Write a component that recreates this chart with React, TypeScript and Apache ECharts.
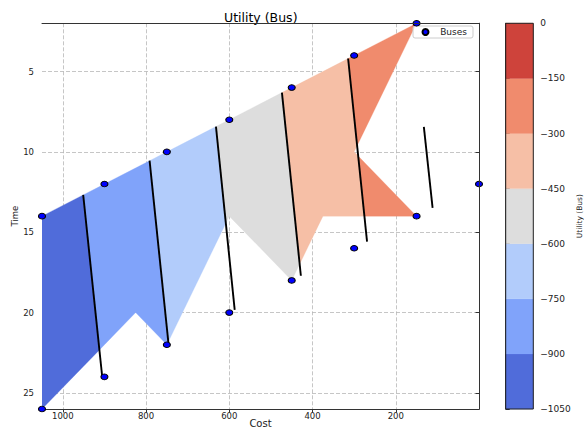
import { useEffect, useRef } from "react";
import * as echarts from "echarts";

// Bus alternatives: cost and travel time of each observation
const busCost = [1050, 1050, 900, 900, 750, 750, 600, 600, 450, 450, 300, 300, 150, 150, 0];
const busTime = [14, 26, 12, 24, 10, 22, 8, 20, 6, 18, 4, 16, 2, 14, 12];

// Utility levels of the filled contour bands
const levels = [-1050, -900, -750, -600, -450, -300, -150, 0];

// Iso-utility lines: level and [cost, time] at each end
const isoLevels = [-900, -750, -600, -450, -300, -150];
const isoStart: [number, number][] = [
  [951, 12.68],
  [791.5, 10.55],
  [632, 8.43],
  [473.5, 6.31],
  [314.5, 4.19],
  [132.5, 8.45],
];
const isoEnd: [number, number][] = [
  [905, 24.07],
  [746, 21.95],
  [587, 19.83],
  [428, 17.71],
  [269, 15.59],
  [111.5, 13.49],
];

// Outline of the filled utility surface (cost, time)
const fillCost = [1050, 900, 750, 600, 450, 300, 150, 300, 150, 375, 450, 600, 750, 825, 1050];
const fillTime = [14, 12, 10, 8, 6, 4, 2, 10, 14, 14, 18, 14, 22, 20, 26];

// Axis ticks
const costTicks = [200, 400, 600, 800, 1000];
const timeTicks = [5, 10, 15, 20, 25];

// coolwarm colours for the seven bands, low to high
const bandColors = ["#506cda", "#80a3fa", "#b2ccfb", "#dddddd", "#f6bfa6", "#f08b6d", "#ce433b"];

type P = [number, number];

function cut(p: P, q: P, dp: number, dq: number): P {
  const t = dp / (dp - dq);
  return [p[0] + (q[0] - p[0]) * t, p[1] + (q[1] - p[1]) * t];
}

// Keep the part of a polygon lying on the same side of line a-b as `keep`
function clipHalf(poly: P[], a: P, b: P, keep: P): P[] {
  const side = (p: P) => (b[0] - a[0]) * (p[1] - a[1]) - (b[1] - a[1]) * (p[0] - a[0]);
  const s = Math.sign(side(keep));
  const out: P[] = [];
  for (let i = 0; i < poly.length; i++) {
    const cur = poly[i];
    const prev = poly[(i + poly.length - 1) % poly.length];
    const dc = side(cur) * s;
    const dp = side(prev) * s;
    if (dc >= 0) {
      if (dp < 0) out.push(cut(prev, cur, dp, dc));
      out.push(cur);
    } else if (dp >= 0) {
      out.push(cut(prev, cur, dp, dc));
    }
  }
  return out;
}

const FONT = "DejaVu Sans";
const SPINE = "#333333";
const TEXT = "#222222";

export default function App() {
  const ref = useRef<HTMLDivElement>(null);

  useEffect(() => {
    document.body.style.margin = "0";
    if (!ref.current) return;
    const chart = echarts.init(ref.current, undefined, { renderer: "svg" });

    const bandIndex = levels.slice(0, -1).map((_, k) => [k, 0]);

    const option: any = {
      animation: false,
      textStyle: { fontFamily: FONT },
      title: {
        text: "Utility (Bus)",
        left: 219,
        top: 6,
        textStyle: { fontFamily: FONT, fontSize: 12.5, fontWeight: "normal", color: "#000" },
      },
      legend: {
        data: ["Buses"],
        left: 413,
        top: 26,
        orient: "vertical",
        padding: [1.5, 6, 1.5, 8.5],
        itemWidth: 13.4,
        itemHeight: 6,
        icon: "circle",
        backgroundColor: "rgba(255,255,255,0.85)",
        borderColor: "#cccccc",
        borderWidth: 1,
        borderRadius: 2,
        textStyle: { fontFamily: FONT, fontSize: 9, color: TEXT, lineHeight: 9, padding: [0, 0, 0, 3] },
      },
      grid: [
        { left: 42, top: 23.3, width: 437, height: 385.7, outerBoundsMode: "none", containLabel: false },
        { left: 505.7, top: 23.3, width: 27.6, height: 385.7, outerBoundsMode: "none", containLabel: false },
      ],
      xAxis: [
        {
          gridIndex: 0,
          type: "value",
          min: 0,
          max: 1050,
          inverse: true,
          position: "bottom",
          name: "Cost",
          nameLocation: "middle",
          nameGap: 9,
          nameMoveOverlap: false,
          nameTextStyle: { fontFamily: FONT, fontSize: 10, color: TEXT },
          axisLine: { show: true, lineStyle: { color: SPINE, width: 1 } },
          axisTick: { show: true, customValues: costTicks, length: 3.5, lineStyle: { color: SPINE } },
          axisLabel: {
            customValues: costTicks,
            fontSize: 8.5,
            margin: 2.5,
            color: TEXT,
            fontFamily: FONT,
            formatter: (v: number) => String(v),
          },
          splitLine: { show: true, lineStyle: { color: "#b8b8b8", width: 0.8, type: [4, 2] } },
          z: 0,
        },
        {
          gridIndex: 0,
          type: "value",
          min: 0,
          max: 1050,
          inverse: true,
          position: "top",
          axisLine: { show: true, lineStyle: { color: SPINE, width: 1 } },
          axisTick: { show: false },
          axisLabel: { show: false },
          splitLine: { show: false },
          z: 10,
        },
        { gridIndex: 1, type: "value", min: 0, max: 1, show: false },
      ],
      yAxis: [
        {
          gridIndex: 0,
          type: "value",
          min: 2,
          max: 26,
          inverse: true,
          position: "left",
          name: "Time",
          nameLocation: "middle",
          nameGap: 23,
          nameMoveOverlap: false,
          nameTextStyle: { fontFamily: FONT, fontSize: 8.5, color: TEXT },
          axisLine: { show: true, lineStyle: { color: SPINE, width: 1 } },
          axisTick: { show: true, customValues: timeTicks, length: 3.5, lineStyle: { color: SPINE } },
          axisLabel: {
            customValues: timeTicks,
            fontSize: 8.5,
            margin: 8,
            color: TEXT,
            fontFamily: FONT,
            formatter: (v: number) => String(v),
          },
          splitLine: { show: false },
          z: 10,
        },
        {
          gridIndex: 0,
          type: "value",
          min: 2,
          max: 26,
          inverse: true,
          position: "right",
          axisLine: { show: true, lineStyle: { color: SPINE, width: 1 } },
          axisTick: { show: false },
          axisLabel: { show: false },
          splitLine: { show: true, lineStyle: { color: "#b8b8b8", width: 0.8, type: [4, 2] } },
          z: 0,
        },
        {
          gridIndex: 1,
          type: "value",
          min: -1050,
          max: 0,
          interval: 150,
          position: "right",
          name: "Utility (Bus)",
          nameLocation: "middle",
          nameRotate: 90,
          nameGap: 42,
          nameMoveOverlap: false,
          nameTextStyle: { fontFamily: FONT, fontSize: 7.5, color: TEXT },
          axisLine: { show: true, lineStyle: { color: "#222", width: 1 } },
          axisTick: { show: true, length: 4, lineStyle: { color: "#222" } },
          axisLabel: {
            fontSize: 9,
            margin: 7,
            color: TEXT,
            fontFamily: FONT,
            formatter: (v: number) => (v === 0 ? "0" : "\u2212" + Math.abs(v)),
          },
          splitLine: { show: false },
        },
      ],
      series: [
        {
          type: "custom",
          name: "bands",
          xAxisIndex: 0,
          yAxisIndex: 0,
          clip: true,
          silent: true,
          data: bandIndex,
          renderItem: (_params: any, api: any) => {
            const k = api.value(0) as number;
            let poly: P[] = fillCost.map((c, i) => api.coord([c, fillTime[i]]) as P);
            const iLo = isoLevels.indexOf(levels[k]);
            const iHi = isoLevels.indexOf(levels[k + 1]);
            if (iLo >= 0) {
              const a = api.coord(isoStart[iLo]) as P;
              const b = api.coord(isoEnd[iLo]) as P;
              poly = clipHalf(poly, a, b, [a[0] + 60, a[1]]);
            }
            if (iHi >= 0 && poly.length >= 3) {
              const a = api.coord(isoStart[iHi]) as P;
              const b = api.coord(isoEnd[iHi]) as P;
              poly = clipHalf(poly, a, b, [a[0] - 60, a[1]]);
            }
            if (poly.length < 3) return null;
            return {
              type: "polygon",
              shape: { points: poly },
              style: { fill: bandColors[k], stroke: bandColors[k], lineWidth: 0.3 },
            };
          },
        },
        {
          type: "custom",
          name: "iso",
          xAxisIndex: 0,
          yAxisIndex: 0,
          clip: true,
          silent: true,
          data: isoLevels.map((_, i) => [i, 0]),
          renderItem: (_params: any, api: any) => {
            const i = api.value(0) as number;
            const a = api.coord(isoStart[i]);
            const b = api.coord(isoEnd[i]);
            return {
              type: "line",
              shape: { x1: a[0], y1: a[1], x2: b[0], y2: b[1] },
              style: { stroke: "#000", lineWidth: 1.9 },
            };
          },
        },
        {
          type: "scatter",
          name: "Buses",
          xAxisIndex: 0,
          yAxisIndex: 0,
          clip: true,
          symbol: "circle",
          symbolSize: [7, 5.6],
          itemStyle: { color: "#0000ff", borderColor: "#000", borderWidth: 1, opacity: 1 },
          data: busCost.map((c, i) => [c, busTime[i]]),
          z: 5,
        },
        {
          type: "custom",
          name: "colorbar",
          xAxisIndex: 2,
          yAxisIndex: 2,
          silent: true,
          data: bandIndex,
          renderItem: (_params: any, api: any) => {
            const k = api.value(0) as number;
            const p0 = api.coord([0, levels[k]]);
            const p1 = api.coord([1, levels[k + 1]]);
            return {
              type: "rect",
              shape: { x: p0[0], y: p1[1], width: p1[0] - p0[0], height: p0[1] - p1[1] },
              style: { fill: bandColors[k], stroke: bandColors[k], lineWidth: 0.3 },
            };
          },
        },
        {
          type: "custom",
          name: "colorbarFrame",
          xAxisIndex: 2,
          yAxisIndex: 2,
          silent: true,
          z: 4,
          data: [[0, levels[0]]],
          renderItem: (_params: any, api: any) => {
            const p0 = api.coord([0, levels[0]]);
            const p1 = api.coord([1, levels[levels.length - 1]]);
            return {
              type: "rect",
              shape: { x: p0[0], y: p1[1], width: p1[0] - p0[0], height: p0[1] - p1[1] },
              style: { fill: "none", stroke: "#222", lineWidth: 1 },
            };
          },
        },
      ],
    };

    chart.setOption(option);
    return () => chart.dispose();
  }, []);

  return <div ref={ref} style={{ width: 584, height: 429 }} />;
}
